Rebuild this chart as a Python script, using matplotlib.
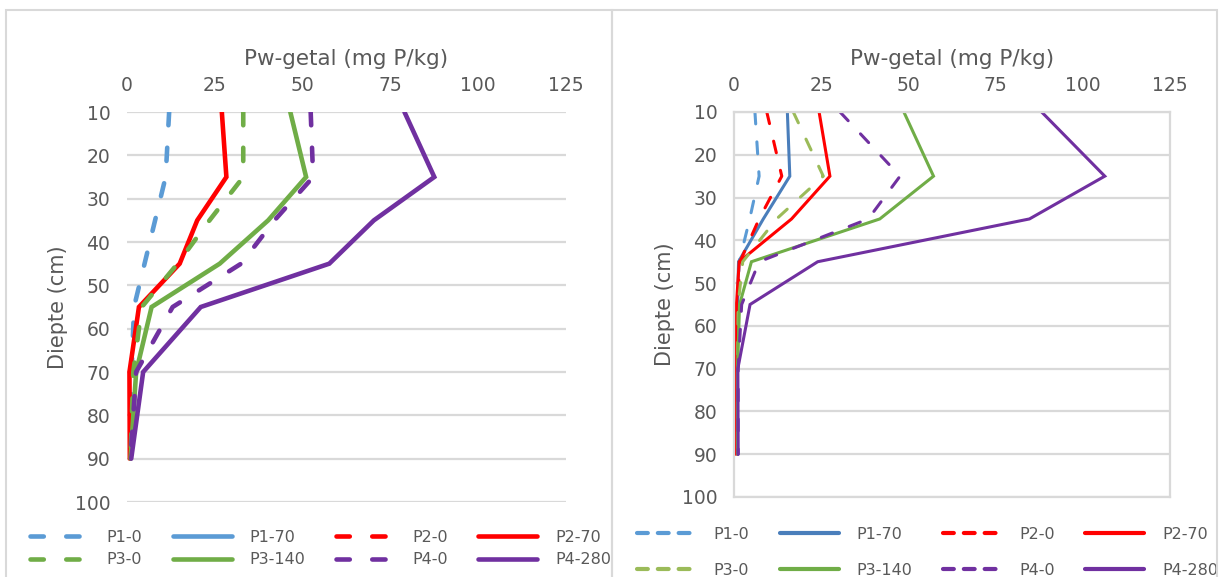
import matplotlib
matplotlib.use("Agg")
import matplotlib.pyplot as plt
from matplotlib.patches import Rectangle

# diepte van de monsters (cm)
diepte = [10, 25, 35, 45, 55, 70, 90]

labels = ["P1-0", "P1-70", "P2-0", "P2-70", "P3-0", "P3-140", "P4-0", "P4-280"]

# linker grafiek: Pw-getal (mg P/kg) per behandeling
links = {
    "P1-0":   [12, 11, 8, 5, 2, 1.3, 1],
    "P1-70":  [],
    "P2-0":   [],
    "P2-70":  [27, 28.3, 20, 15, 3.4, 0.7, 0.8],
    "P3-0":   [33.1, 33.1, 23.5, 14.4, 4.2, 1.8, 1],
    "P3-140": [46.5, 51, 40.2, 26.4, 7, 2.6, 1],
    "P4-0":   [52.3, 53, 42, 32.5, 13, 2.6, 1],
    "P4-280": [79, 87.5, 70.3, 57.6, 21, 4.6, 1.2],
}

# rechter grafiek
rechts = {
    "P1-0":   [6.0, 7.2, 4.5, 1.5, 1, 1, 1],
    "P1-70":  [15.3, 16, 8.4, 1.3, 1, 1, 1],
    "P2-0":   [9.4, 13.7, 7.2, 1.7, 1, 1, 1],
    "P2-70":  [24.4, 27.5, 16.5, 1.5, 0.7, 0.3, 0.5],
    "P3-0":   [17, 25.6, 12.2, 2.5, 1.2, 1, 1],
    "P3-140": [48.7, 57.2, 41.8, 5.0, 1.6, 1, 1],
    "P4-0":   [30.4, 47.6, 38.5, 7.2, 2.2, 1.2, 1.2],
    "P4-280": [88.2, 106.3, 84.7, 24, 4.6, 1.1, 1.2],
}

kleur_links = ["#5B9BD5", "#5B9BD5", "#FF0000", "#FF0000",
               "#70AD47", "#70AD47", "#7030A0", "#7030A0"]
kleur_rechts = ["#5B9BD5", "#4A7EBB", "#FF0000", "#FF0000",
                "#9BBB59", "#70AD47", "#7030A0", "#7030A0"]
gestreept = [True, False, True, False, True, False, True, False]

tekst = "#595959"
grid = "#D9D9D9"

W, H = 1220, 577
fig = plt.figure(figsize=(W/100, H/100), dpi=100)

# kaders rond beide grafieken
for x0, x1 in [(6, 612), (612, 1217)]:
    fig.patches.append(Rectangle((x0/W, -0.1), (x1-x0)/W, 1.1 - 10/H,
                                 transform=fig.transFigure, fill=False,
                                 edgecolor=grid, lw=1.5))

ax1 = fig.add_axes([127/W, 1-502/H, 439/W, 390/H])
ax2 = fig.add_axes([734/W, 1-497/H, 436/W, 385/H])


def teken(ax, data, kleuren, lw, streep, rand):
    lijnen = []
    for lab, kl, st in zip(labels, kleuren, gestreept):
        ln, = ax.plot(data[lab], diepte[:len(data[lab])], color=kl, lw=lw,
                      label=lab, solid_capstyle="round", dash_capstyle="round",
                      solid_joinstyle="miter")
        if st:
            ln.set_dashes(streep)
        lijnen.append(ln)
    ax.set_xlim(0, 125)
    ax.set_ylim(100, 10)
    ax.set_xticks([0, 25, 50, 75, 100, 125])
    ax.set_yticks(range(10, 101, 10))
    ax.xaxis.tick_top()
    ax.xaxis.set_label_position("top")
    ax.tick_params(length=0, labelsize=13.5, labelcolor=tekst)
    ax.tick_params(axis="x", pad=12)
    ax.tick_params(axis="y", pad=12)
    ax.grid(axis="y", color=grid, lw=1.6)
    ax.set_axisbelow(True)
    for s in ax.spines.values():
        s.set_visible(rand)
        s.set_color(grid)
        s.set_linewidth(1.6)
    ax.set_xlabel("Pw-getal (mg P/kg)", fontsize=15.5, color=tekst, labelpad=8)
    ax.set_ylabel("Diepte (cm)", fontsize=15, color=tekst, labelpad=5)
    return lijnen


l1 = teken(ax1, links, kleur_links, 3.3, (2.9, 4.9), False)
l2 = teken(ax2, rechts, kleur_rechts, 2.2, (3.9, 5.9), True)

# legenda rij voor rij: ncol vult per kolom
volgorde = [0, 4, 1, 5, 2, 6, 3, 7]


def legenda(ax, lijnen, x, y, rij, lw, streep):
    leg = ax.legend([lijnen[i] for i in volgorde], [labels[i] for i in volgorde],
                    loc="upper left", bbox_to_anchor=(x/W, 1-y/H),
                    bbox_transform=fig.transFigure, ncol=4, frameon=False,
                    fontsize=11.5, handlelength=3.7, handletextpad=1.1,
                    columnspacing=1.9, labelspacing=rij, borderpad=0)
    for t in leg.get_texts():
        t.set_color(tekst)
    for i, hl in zip(volgorde, leg.get_lines()):
        hl.set_linewidth(lw)
        if gestreept[i]:
            hl.set_dashes(streep)


legenda(ax1, l1, 22, 522, 0.45, 3.3, (2.9, 4.9))
legenda(ax2, l2, 629, 519, 1.3, 3.0, (2.6, 2.4))

fig.savefig("out.png", dpi=100, facecolor="white")
